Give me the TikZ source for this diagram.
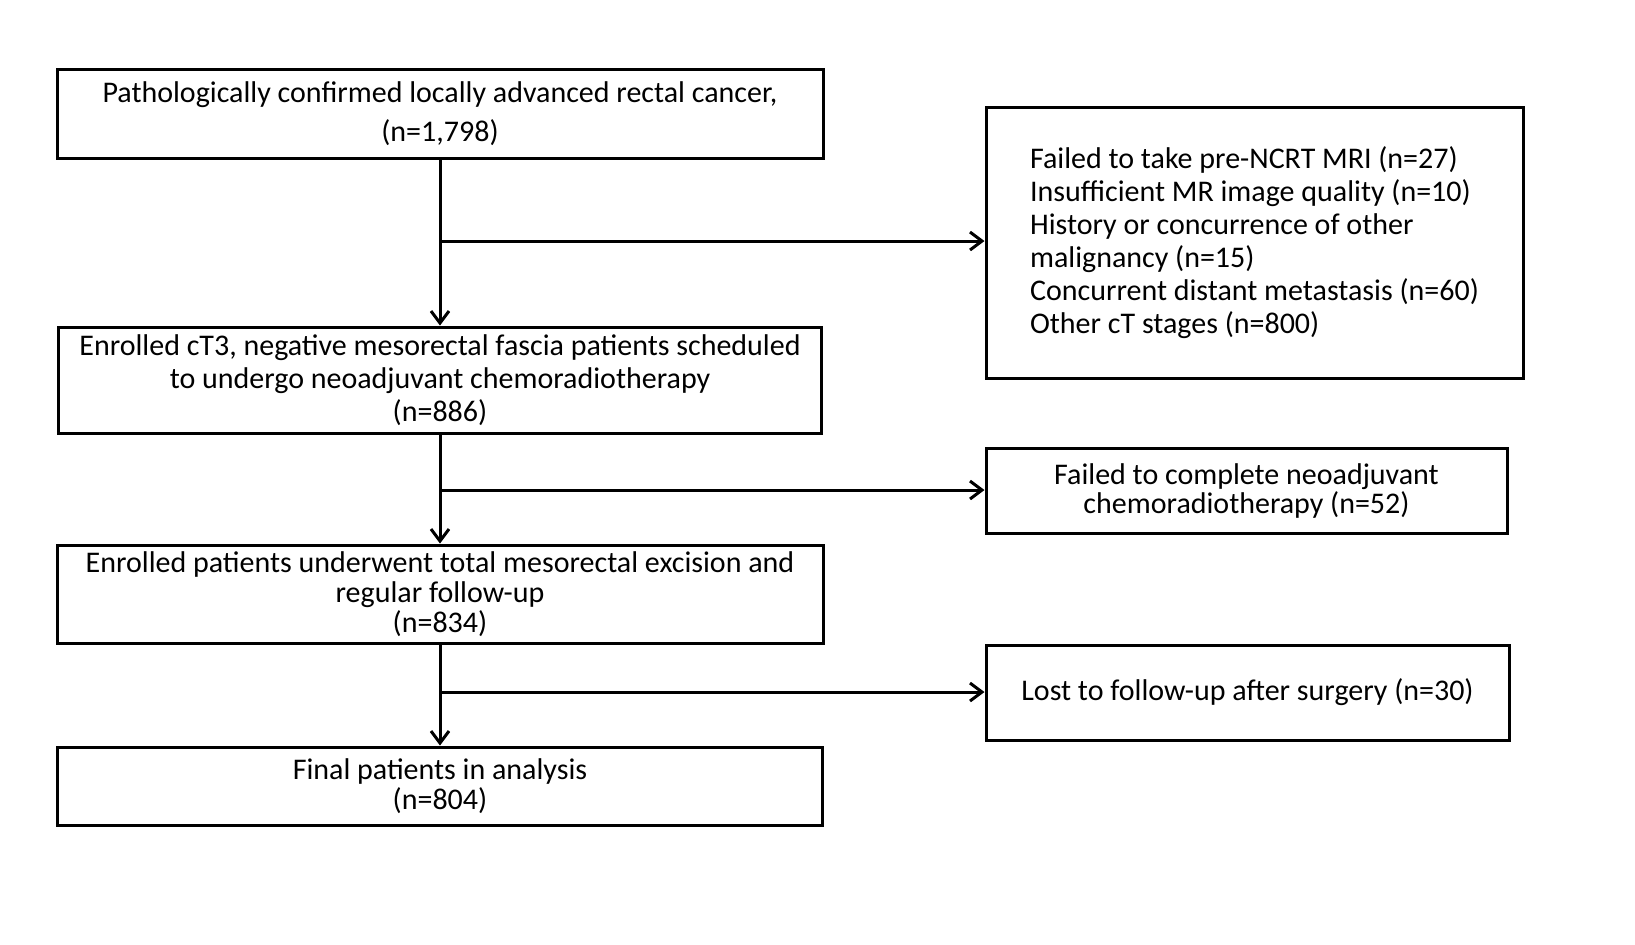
\documentclass[tikz,border=0pt]{standalone}
\usepackage{fontspec}
\setmainfont{Carlito}
\usetikzlibrary{arrows.meta}
\begin{document}
\begin{tikzpicture}[x=0.5pt,y=-0.5pt,
  box/.style={draw, line width=1.5pt, inner sep=0pt, align=center, font=\fontsize{15}{16.5}\selectfont},
  conn/.style={line width=1.5pt, -{Straight Barb[length=6pt,width=9pt]}}]
\useasboundingbox (0,0) rectangle (1635,944);
\node[box, minimum width=383pt, minimum height=44.5pt, font=\fontsize{15}{19.5}\selectfont] (b1) at (440,113.5)
  {Pathologically confirmed locally advanced rectal cancer,\\(n=1,798)};
\node[box, minimum width=381.5pt, minimum height=53pt] (b2) at (440,380)
  {Enrolled cT3, negative mesorectal fascia patients scheduled\\to undergo neoadjuvant chemoradiotherapy\\(n=886)};
\node[box, minimum width=383pt, minimum height=49pt, font=\fontsize{15}{15}\selectfont] (b3) at (440,594)
  {Enrolled patients underwent total mesorectal excision and\\regular follow-up\\(n=834)};
\node[box, minimum width=382.5pt, minimum height=39pt, font=\fontsize{15}{15}\selectfont] (b4) at (440,786)
  {Final patients in analysis\\(n=804)};
\node[box, minimum width=268.5pt, minimum height=135.5pt, align=left] (r1) at (1254.5,242.5)
  {Failed to take pre-NCRT MRI (n=27)\\Insufficient MR image quality (n=10)\\History or concurrence of other\\malignancy (n=15)\\Concurrent distant metastasis (n=60)\\Other cT stages (n=800)};
\node[box, minimum width=260.5pt, minimum height=42.5pt, font=\fontsize{15}{14.5}\selectfont] (r2) at (1246.5,490.5)
  {Failed to complete neoadjuvant\\chemoradiotherapy (n=52)};
\node[box, minimum width=261.5pt, minimum height=47.5pt] (r3) at (1247.5,692.5)
  {Lost to follow-up after surgery (n=30)};
\coordinate (j1) at (440,241);
\coordinate (j2) at (440,490);
\coordinate (j3) at (440,692);
\draw[conn] (b1.south) -- (b2.north);
\draw[conn] (b2.south) -- (b3.north);
\draw[conn] (b3.south) -- (b4.north);
\draw[conn] (j1) -- (j1 -| r1.west);
\draw[conn] (j2) -- (j2 -| r2.west);
\draw[conn] (j3) -- (j3 -| r3.west);
\end{tikzpicture}
\end{document}
